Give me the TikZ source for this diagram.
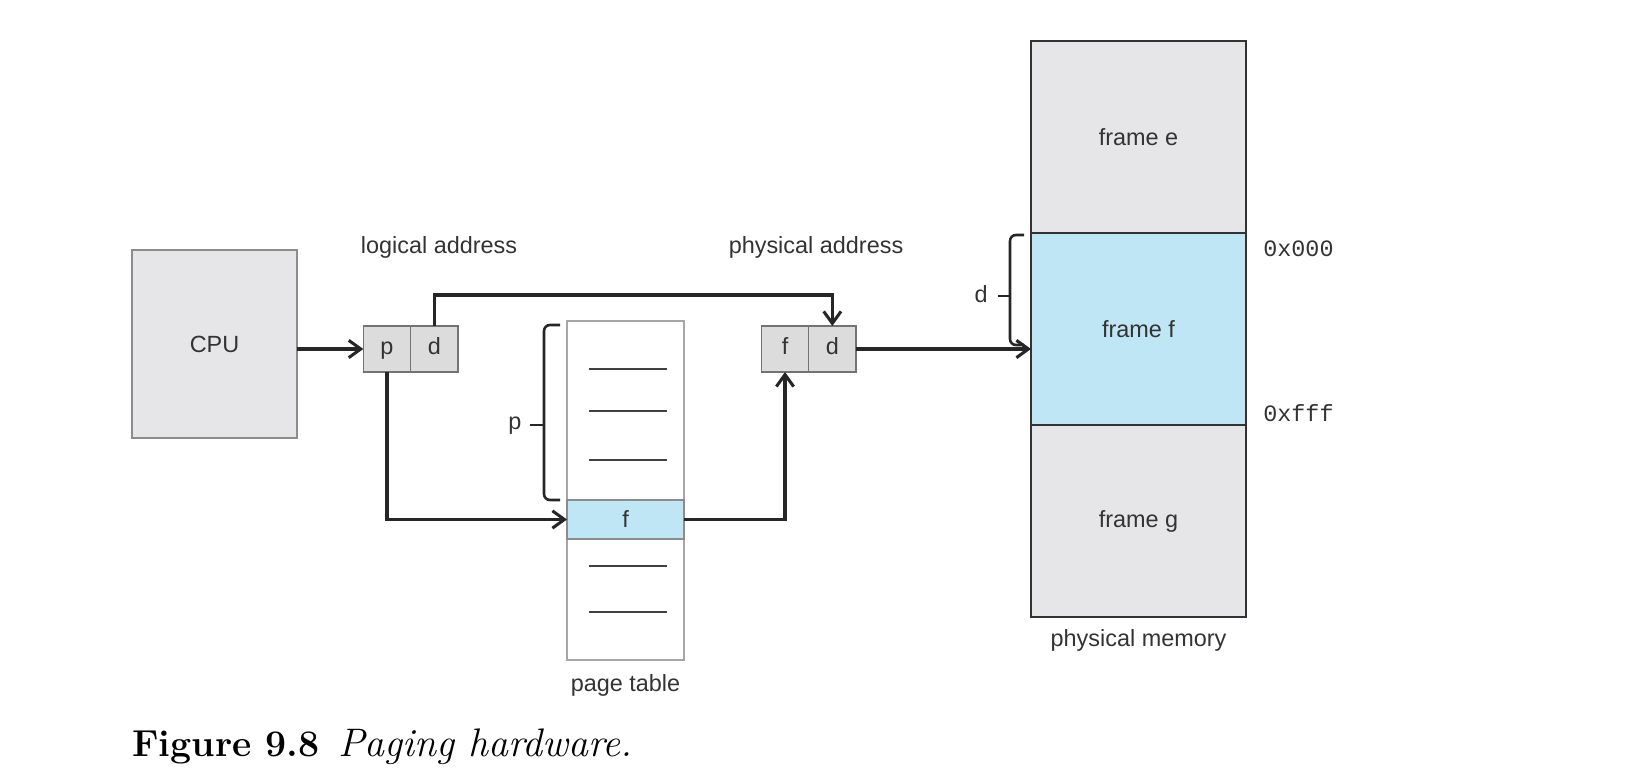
\documentclass[tikz,border=0pt]{standalone}
\usepackage{fontspec}
\setsansfont{Liberation Sans}
\setmonofont{Liberation Mono}
\usetikzlibrary{positioning,arrows.meta}

\definecolor{boxgray}{HTML}{E6E6E8}
\definecolor{cellgray}{HTML}{DCDCDC}
\definecolor{rowblue}{HTML}{BFE6F5}
\definecolor{txtgray}{HTML}{333333}

\tikzset{
  cell/.style={draw=black!55, fill=cellgray, line width=0.6pt, text height=7.2pt, text depth=2.1pt,
    minimum width=7.1mm, minimum height=6.9mm, inner sep=0pt, outer sep=0pt},
  memframe/.style={draw=black!80, line width=0.9pt,
    minimum width=32.25mm, minimum height=28.8mm, inner sep=0pt, outer sep=0pt},
  link/.style={->, line width=1.3pt, black!85},
  bracket/.style={line width=1.1pt, black!85, rounded corners=0.9mm}
}

\begin{document}
\begin{tikzpicture}[x=0.15mm, y=-0.15mm, font=\sffamily, text=txtgray,
    >={Straight Barb[length=1.8mm, width=2.6mm]}]
  \useasboundingbox (0,0) rectangle (1650,781);

  % cpu and addresses
  \node[draw=black!45, fill=boxgray, line width=0.6pt, minimum width=24.75mm,
    minimum height=28.2mm, inner sep=0pt, outer sep=0pt] (cpu) at (214.5,344) {CPU};
  \node[cell] (lp) at (387,349) {p};
  \node[cell, right=0pt of lp] (ld) {d};
  \node[cell] (pf) at (785,349) {f};
  \node[cell, right=0pt of pf] (pd) {d};
  \node (logaddr) at (439,247) {logical address};
  \node (physaddr) at (816,247) {physical address};

  % page table
  \node[draw=black!35, line width=0.8pt, minimum width=17.55mm, minimum height=50.85mm,
    inner sep=0pt, outer sep=0pt] (ptable) at (625.5,490.5) {};
  \node[draw=black!45, fill=rowblue, line width=0.6pt, minimum width=17.55mm,
    minimum height=5.85mm, inner sep=0pt, outer sep=0pt] (frow) at (625.5,519.5) {f};
  \foreach \y in {369,411,460,566,612}
    \draw[line width=0.9pt, black!75] (589,\y) -- (667,\y);
  \node[below=1mm of ptable] (ptlabel) {page table};
  \draw[bracket] (560,325) -- (544,325) -- (544,500) -- (560,500);
  \draw[bracket] (544,425) -- (530,425);
  \node (plabel) at (515,426) {p};

  % physical memory
  \node[memframe, fill=rowblue] (framef) at (1138.5,329) {frame f};
  \node[memframe, fill=boxgray, above=0pt of framef] (framee) {frame e};
  \node[memframe, fill=boxgray, below=0pt of framef] (frameg) {frame g};
  \node[below=0.6mm of frameg] (pmlabel) {physical memory};
  \node[anchor=west, font=\ttfamily] (lo) at (1255,249) {0x000};
  \node[anchor=west, font=\ttfamily] (hi) at (1255,413) {0xfff};
  \draw[bracket] (1024,235) -- (1010,235) -- (1010,345) -- (1024,345);
  \draw[bracket] (1010,296) -- (998,296);
  \node (dlabel) at (981,294) {d};

  % connectors
  \draw[link] (cpu.east |- lp.west) -- (lp.west);
  \draw[link] (ld.north) -- ++(0,-31) -| (pd.north);
  \draw[link] (lp.south) |- (frow.west);
  \draw[link] (frow.east) -| (pf.south);
  \draw[link] (pd.east) -- (pd.east -| framef.west);

  \node[anchor=west, text=black, font=\rmfamily\fontsize{16}{19}\selectfont]
    (caption) at (124,747) {\textbf{Figure 9.8}\enspace{\fontsize{17}{19}\selectfont\itshape Paging hardware.}};
\end{tikzpicture}
\end{document}
